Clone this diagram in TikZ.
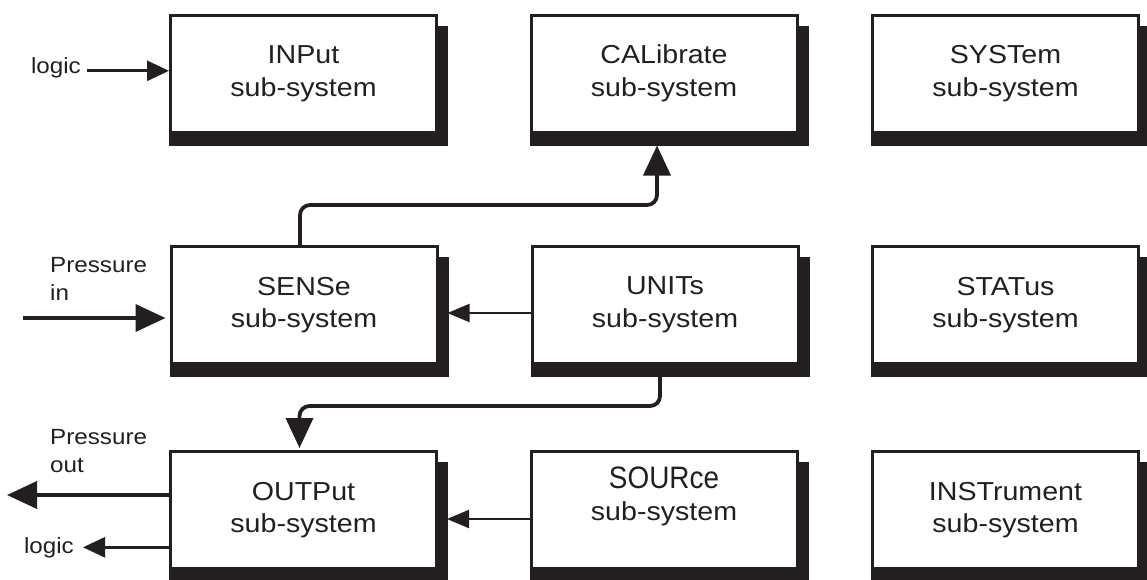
\documentclass[tikz,border=0pt]{standalone}
\usepackage{fontspec}
\setmainfont{Liberation Sans}[FakeStretch=1.1]
\newfontfamily\srcfont{Liberation Sans}[FakeStretch=0.9]
\usetikzlibrary{arrows.meta,calc,backgrounds}
\definecolor{ink}{HTML}{231F20}

\tikzstyle{subsys}=[draw=ink,fill=white,line width=3pt,minimum width=266pt,minimum height=117pt,align=center,text=ink,font=\fontsize{26}{32.7}\selectfont]
\tikzstyle{lbl}=[inner sep=0pt,text=ink,font=\fontsize{22}{28}\selectfont]
\tikzstyle{thinarrow}=[draw=ink,line width=2pt,-{Triangle[length=22pt,width=18pt]}]
\tikzstyle{midarrow}=[draw=ink,line width=2.7pt,-{Triangle[length=22pt,width=20pt]}]
\tikzstyle{fatarrow}=[draw=ink,line width=3.8pt,-{Triangle[length=30pt,width=27pt]}]

\begin{document}
\begin{tikzpicture}[x=1pt,y=-1pt]
  \useasboundingbox (0,0) rectangle (1147,579);

  % the nine sub-systems
  \node[subsys] (inp) at (303.5,73.5) {INPut\\sub-system};
  \node[subsys] (cal) at (664,73.5) {CALibrate\\sub-system};
  \node[subsys] (sys) at (1005.5,73.5) {SYSTem\\sub-system};

  \node[subsys] (sen) at (304,305) {SENSe\\sub-system};
  \node[subsys] (uni) at (665,305) {UNITs\\sub-system};
  \node[subsys] (sta) at (1005.5,305) {STATus\\sub-system};

  \node[subsys] (out) at (303.5,510) {OUTPut\\sub-system};
  \node[subsys] (sou) at (664,510) {{\srcfont\fontsize{31}{34}\selectfont SOURce}\\sub-system\\\mbox{}};
  \node[subsys] (ins) at (1005.5,510) {INSTrument\\sub-system};

  \begin{scope}[on background layer]
    \foreach \n in {inp,cal,sys,sen,uni,sta,out,sou,ins}
      \fill[ink] ($(\n.north west)+(0,12)$) rectangle ($(\n.south east)+(10,12)$);
  \end{scope}

  % outside signals
  \node[lbl,anchor=base east] (logicin) at (81,73) {logic};
  \draw[midarrow] ($(logicin.east)+(6,3.5)$) -- ($(logicin.east -| inp.west)+(0,3.5)$);

  \node[lbl,anchor=north west,align=left] (presin) at (50,257) {Pressure\\in};
  \coordinate (pin) at (23,318);
  \draw[fatarrow] (pin) -- ($(sen.west)+(-4,13)$);

  \node[lbl,anchor=north west,align=left] (presout) at (50,429) {Pressure\\out};
  \coordinate (pout) at (7,495);
  \draw[fatarrow] ($(out.west)+(0,-15)$) -- (pout);

  \node[lbl,anchor=base east] (logicout) at (74,553) {logic};
  \draw[midarrow] (out.west |- logicout.east) -- ($(logicout.east)+(9,0)$);

  % links between sub-systems
  \draw[thinarrow] ($(uni.west)+(0,8)$) -- ($(sen.east)+(9,8)$);
  \draw[thinarrow] ($(sou.west)+(0,9)$) -- ($(out.east)+(9,9)$);

  \draw[fatarrow,rounded corners=10pt] ($(sen.north)+(-4,0)$) -- ++(0,-40) -| ($(cal.south)+(-7,12)$);
  \draw[fatarrow,rounded corners=10pt] ($(uni.south)+(-5,12)$) -- ++(0,29) -| ($(out.north)+(-4,-2)$);
\end{tikzpicture}
\end{document}
